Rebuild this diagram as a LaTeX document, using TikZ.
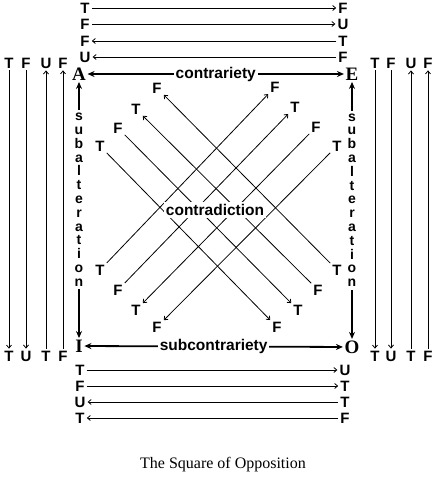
\documentclass[tikz,border=0pt]{standalone}
\usepackage{fontspec}
\setmainfont{Liberation Serif}
\setsansfont{Liberation Sans}
\usetikzlibrary{arrows.meta}

\begin{document}
\begin{tikzpicture}[
    x=1pt,y=-1pt,
    tv/.style    = {font=\sffamily\bfseries\fontsize{15}{15}\selectfont,inner sep=2pt},
    corner/.style= {font=\bfseries\fontsize{19}{19}\selectfont,inner sep=1.5pt},
    rel/.style   = {font=\sffamily\bfseries\fontsize{15.5}{15.5}\selectfont,fill=white,inner sep=2pt},
    stack/.style = {rel,pos=0.46,align=center,inner sep=3pt,
                    font=\sffamily\bfseries\fontsize{14}{13.8}\selectfont},
    ln/.style    = {-{Straight Barb[length=3pt,width=5pt]},line width=0.8pt},
    bd/.style    = {{Stealth[length=7pt,width=6pt]}-{Stealth[length=7pt,width=6pt]},line width=1.8pt},
  ]
  \useasboundingbox (0,0) rectangle (445,500);

  % corners
  \node[corner] (A) at (79,74)  {A};
  \node[corner] (E) at (352,74) {E};
  \node[corner] (I) at (79,346) {I};
  \node[corner] (O) at (352,347){O};

  \draw[bd] (A) -- node[rel] {contrariety} (E);
  \draw[bd] (I) -- node[rel] {subcontrariety} (O);
  \draw[bd] (A) -- node[stack] {s\\u\\b\\a\\l\\t\\e\\r\\a\\t\\i\\o\\n} (I);
  \draw[bd] (E) -- node[stack] {s\\u\\b\\a\\l\\t\\e\\r\\a\\t\\i\\o\\n} (O);

  % rows above A--E
  \foreach \n/\y/\l/\r in {1/8/T/F,2/24/F/U,3/41/F/T,4/57/U/F} {
    \node[tv] (tl\n) at (85,\y)  {\l};
    \node[tv] (tr\n) at (343,\y) {\r};
  }
  \foreach \a/\b in {tl1/tr1,tl2/tr2,tr3/tl3,tr4/tl4} \draw[ln] (\a) -- (\b);

  % rows below I--O
  \foreach \n/\y/\l/\r in {1/370/T/U,2/386/F/T,3/402/U/T,4/418/T/F} {
    \node[tv] (bl\n) at (80,\y)  {\l};
    \node[tv] (br\n) at (345,\y) {\r};
  }
  \foreach \a/\b in {bl1/br1,bl2/br2,br3/bl3,br4/bl4} \draw[ln] (\a) -- (\b);

  % columns left of A--I
  \foreach \n/\x/\t/\b in {1/9/T/T,2/26/F/U,3/46/U/T,4/63/F/F} {
    \node[tv] (lt\n) at (\x,63)  {\t};
    \node[tv] (lb\n) at (\x,356) {\b};
  }
  \foreach \a/\b in {lt1/lb1,lt2/lb2,lb3/lt3,lb4/lt4} \draw[ln] (\a) -- (\b);

  % columns right of E--O
  \foreach \n/\x/\t/\b in {1/375/T/T,2/391/F/U,3/411/U/T,4/428/F/F} {
    \node[tv] (rt\n) at (\x,63)  {\t};
    \node[tv] (rb\n) at (\x,356) {\b};
  }
  \foreach \a/\b in {rt1/rb1,rt2/rb2,rb3/rt3,rb4/rt4} \draw[ln] (\a) -- (\b);

  % diagonals
  \node[tv] (a1) at (157,88)  {F};
  \node[tv] (a2) at (136,109) {T};
  \node[tv] (a3) at (118,128) {F};
  \node[tv] (a4) at (100,146) {T};
  \node[tv] (o1) at (337,270) {T};
  \node[tv] (o2) at (318,290) {F};
  \node[tv] (o3) at (298,310) {T};
  \node[tv] (o4) at (277,327) {F};
  \node[tv] (e1) at (275,87)  {F};
  \node[tv] (e2) at (295,107) {T};
  \node[tv] (e3) at (316,127) {F};
  \node[tv] (e4) at (337,146) {T};
  \node[tv] (i1) at (100,270) {T};
  \node[tv] (i2) at (118,290) {F};
  \node[tv] (i3) at (136,310) {T};
  \node[tv] (i4) at (157,327) {F};

  \foreach \a/\b in {o1/a1,o2/a2,a3/o3,a4/o4,i1/e1,i2/e2,e3/i3,e4/i4}
    \draw[ln] (\a) -- (\b);

  \node[rel] (cd) at (215,210) {contradiction};

  \node[font=\fontsize{16}{16}\selectfont] (title) at (223,465) {The Square of Opposition};

\end{tikzpicture}
\end{document}
